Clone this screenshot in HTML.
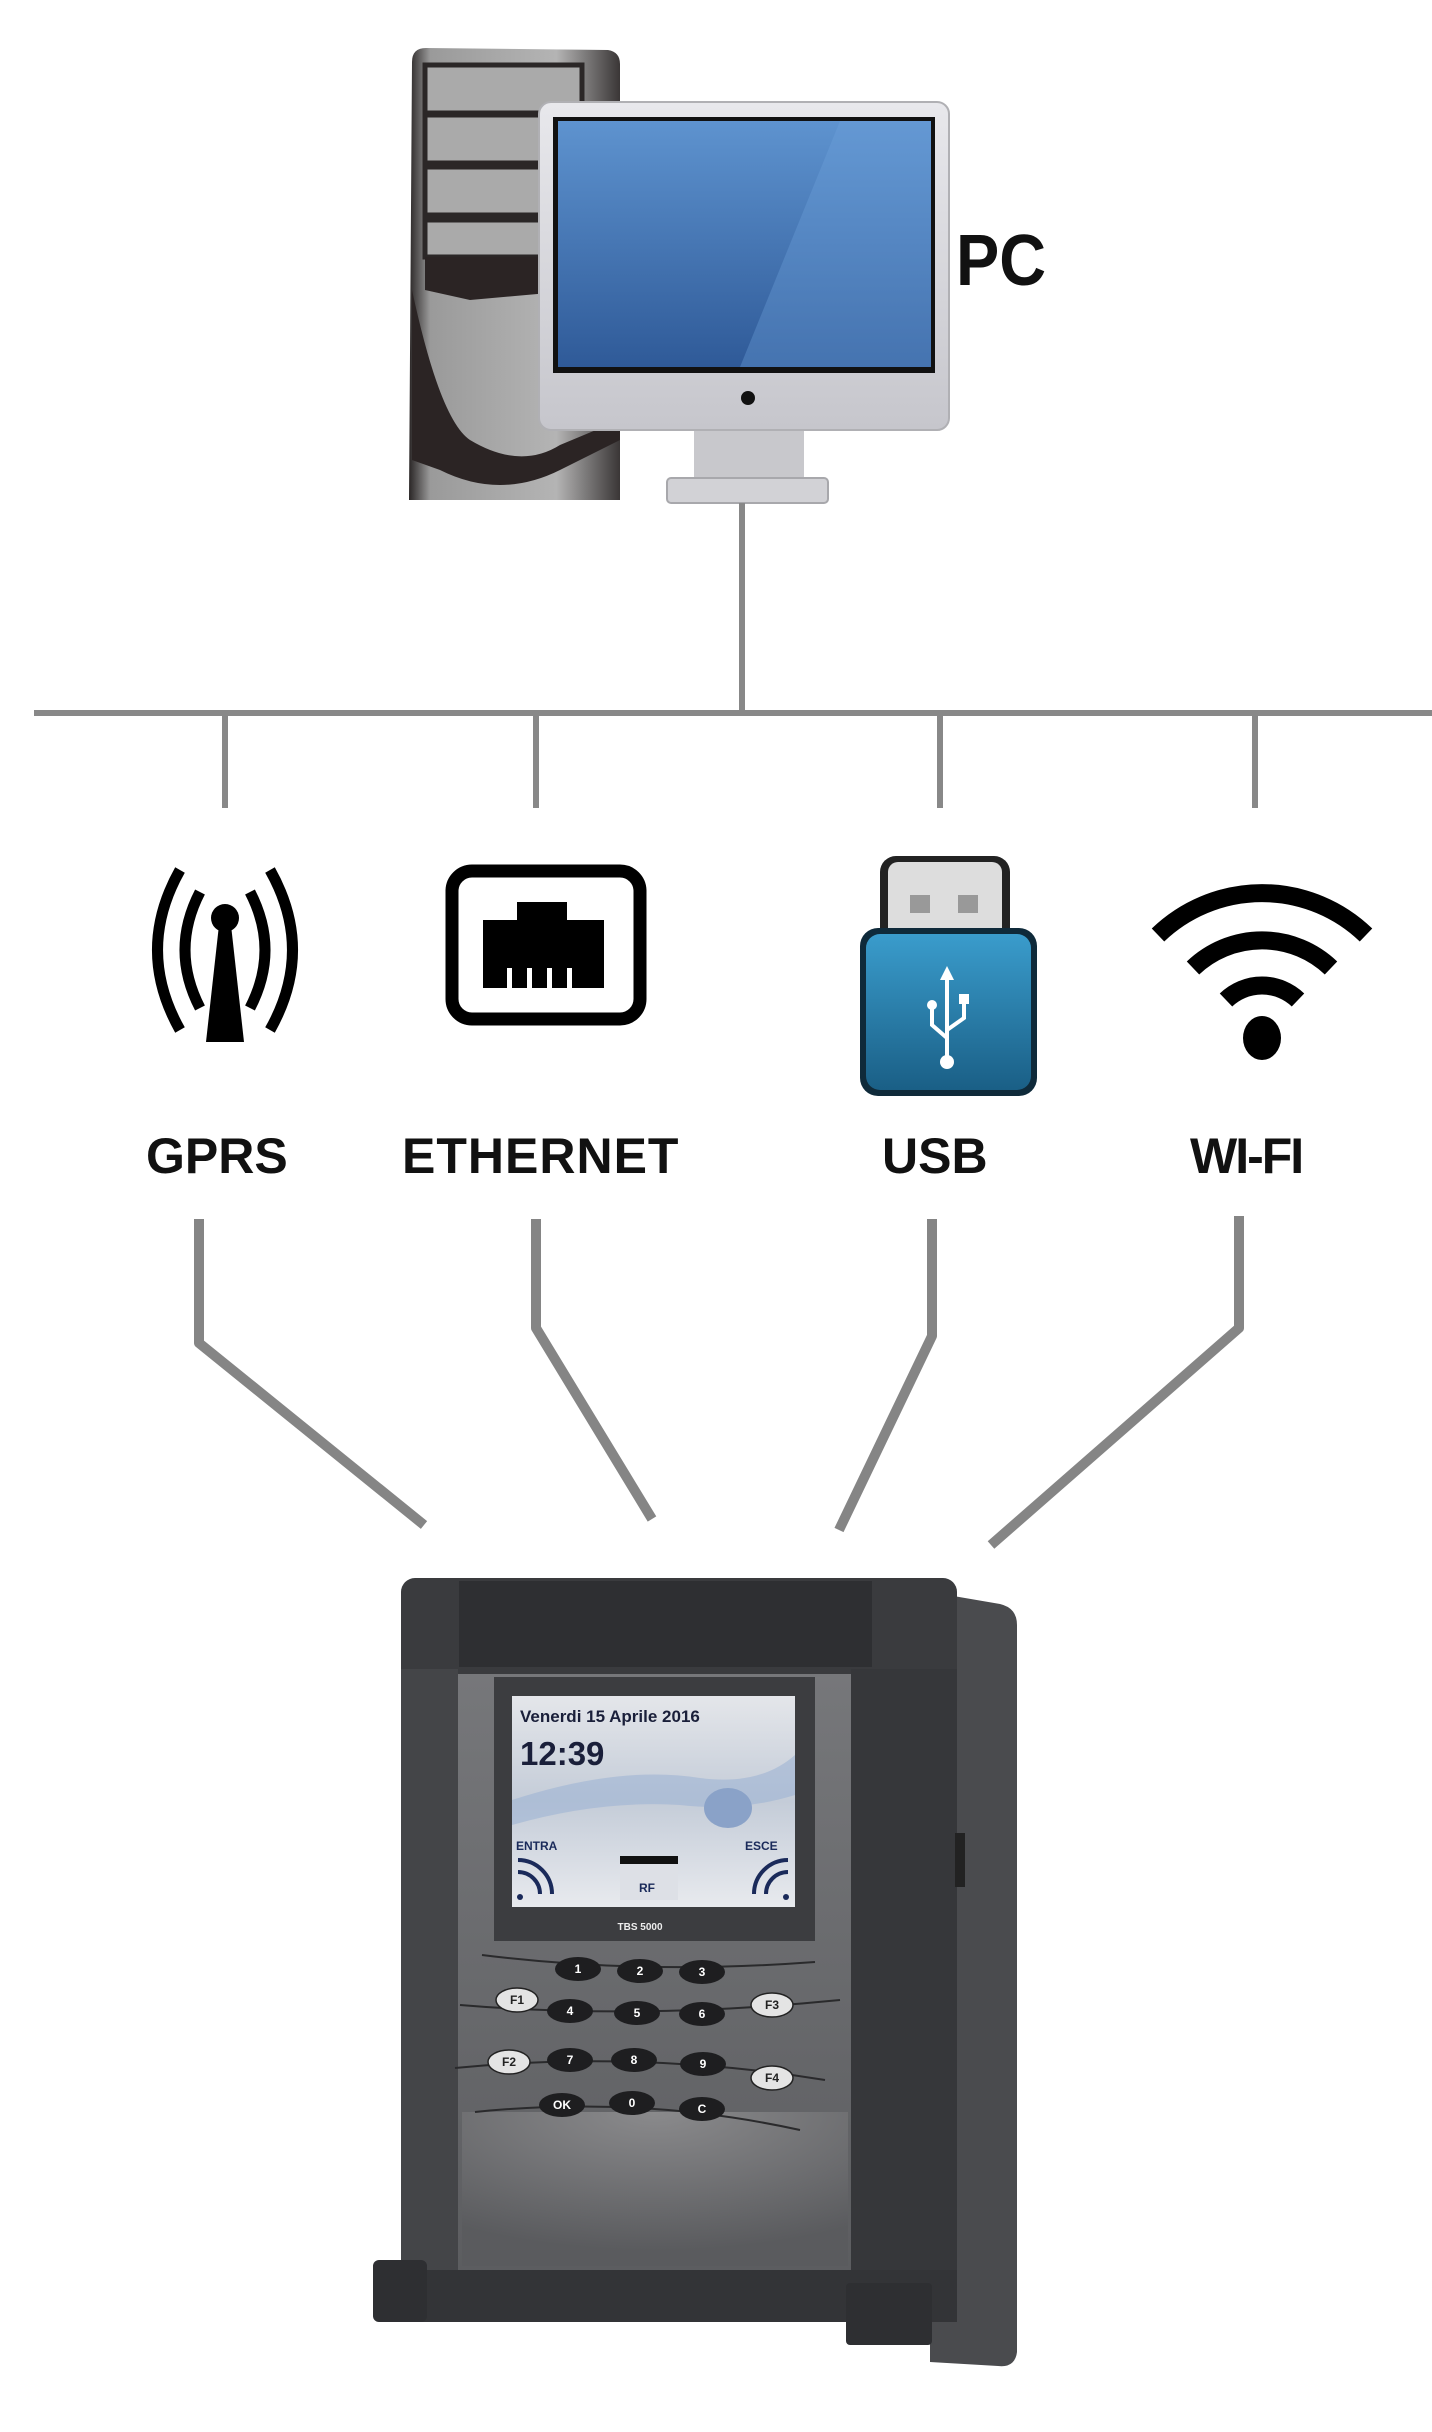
<!DOCTYPE html>
<html><head><meta charset="utf-8"><style>
html,body{margin:0;padding:0;background:#fff;}
svg{display:block;}
text{font-family:"Liberation Sans",Arial,sans-serif;font-weight:bold;}
</style></head><body>
<svg width="1432" height="2432" viewBox="0 0 1432 2432" xmlns="http://www.w3.org/2000/svg">
<defs>
<linearGradient id="tower" x1="0" y1="0" x2="1" y2="0"><stop offset="0" stop-color="#2a2626"/><stop offset="0.1" stop-color="#9a9a9a"/><stop offset="0.7" stop-color="#b4b4b4"/><stop offset="1" stop-color="#3a3636"/></linearGradient>
<linearGradient id="scr" x1="0" y1="0" x2="0" y2="1"><stop offset="0" stop-color="#5e93cf"/><stop offset="1" stop-color="#2f5a98"/></linearGradient>
<linearGradient id="mon" x1="0" y1="0" x2="0" y2="1"><stop offset="0" stop-color="#e8e8ec"/><stop offset="1" stop-color="#c6c6cc"/></linearGradient>
<linearGradient id="usbb" x1="0" y1="0" x2="0" y2="1"><stop offset="0" stop-color="#3a9ccc"/><stop offset="1" stop-color="#1a5f86"/></linearGradient>
<linearGradient id="lcd" x1="0" y1="0" x2="0" y2="1"><stop offset="0" stop-color="#e4e6ea"/><stop offset="0.5" stop-color="#c4ccd8"/><stop offset="1" stop-color="#e8eaee"/></linearGradient>
<linearGradient id="panel" x1="0" y1="0" x2="0" y2="1"><stop offset="0" stop-color="#76777a"/><stop offset="1" stop-color="#5c5d60"/></linearGradient>
<radialGradient id="spk" cx="0.5" cy="0" r="0.9"><stop offset="0" stop-color="#8a8a8c"/><stop offset="1" stop-color="#5a5b5e"/></radialGradient>
</defs>

<!-- PC tower -->
<path d="M412 62 Q412 48 426 48 L608 50 Q620 52 620 64 L620 500 L409 500 Z" fill="url(#tower)"/>
<rect x="425" y="65" width="157" height="48" fill="#aaa" stroke="#2b2727" stroke-width="5"/>
<rect x="425" y="115" width="157" height="48" fill="#aaa" stroke="#2b2727" stroke-width="5"/>
<rect x="425" y="167" width="157" height="48" fill="#aaa" stroke="#2b2727" stroke-width="5"/>
<rect x="425" y="220" width="157" height="37" fill="#aaa" stroke="#2b2727" stroke-width="5"/>
<path d="M425 257 L582 257 L582 290 L470 300 L425 290 Z" fill="#2b2424"/>
<path d="M412 290 Q440 420 470 440 Q520 470 560 445 L620 420 L620 440 L560 470 Q500 500 440 470 L412 460 Z" fill="#2b2424"/>

<!-- Monitor -->
<rect x="694" y="425" width="110" height="58" fill="#c8c8cc"/>
<rect x="667" y="478" width="161" height="25" rx="4" fill="#d2d2d6" stroke="#a8a8ac" stroke-width="2"/>
<rect x="539" y="102" width="410" height="328" rx="12" fill="url(#mon)" stroke="#b0b0b4" stroke-width="2"/>
<rect x="553" y="117" width="382" height="256" fill="#111"/>
<rect x="558" y="121" width="373" height="246" fill="url(#scr)"/>
<path d="M840 121 L931 121 L931 367 L740 367 Z" fill="#6fa3dc" opacity="0.35"/>
<circle cx="748" cy="398" r="7" fill="#111"/>
<text x="956" y="285" font-size="72" fill="#111" transform="translate(956 0) scale(0.9 1) translate(-956 0)">PC</text>

<!-- Bus lines -->
<g stroke="#888" stroke-width="6" fill="none">
<line x1="742" y1="503" x2="742" y2="713"/>
<line x1="34" y1="713" x2="1432" y2="713"/>
<line x1="225" y1="713" x2="225" y2="808"/>
<line x1="536" y1="713" x2="536" y2="808"/>
<line x1="940" y1="713" x2="940" y2="808"/>
<line x1="1255" y1="713" x2="1255" y2="808"/>
</g>

<!-- GPRS icon -->
<g fill="none" stroke="#000" stroke-width="11" stroke-linecap="butt">
<path d="M180 870 Q135 950 180 1030"/>
<path d="M270 870 Q315 950 270 1030"/>
<path d="M200 892 Q170 950 200 1008"/>
<path d="M250 892 Q280 950 250 1008"/>
</g>
<circle cx="225" cy="918" r="14" fill="#000"/>
<path d="M219 925 L231 925 L244 1042 L206 1042 Z" fill="#000"/>

<!-- Ethernet icon -->
<rect x="452" y="871" width="188" height="148" rx="20" fill="none" stroke="#000" stroke-width="13"/>
<path d="M483 920 L517 920 L517 902 L567 902 L567 920 L604 920 L604 988 L483 988 Z" fill="#000"/>
<g fill="#fff"><rect x="507" y="968" width="5" height="20"/><rect x="527" y="968" width="5" height="20"/><rect x="547" y="968" width="5" height="20"/><rect x="567" y="968" width="5" height="20"/></g>

<!-- USB icon -->
<rect x="880" y="856" width="130" height="92" rx="16" fill="#222"/>
<rect x="888" y="862" width="114" height="84" rx="10" fill="#ddd"/>
<rect x="910" y="895" width="20" height="18" fill="#999"/><rect x="958" y="895" width="20" height="18" fill="#999"/>
<rect x="860" y="928" width="177" height="168" rx="18" fill="#0f2a3a"/>
<rect x="866" y="934" width="165" height="156" rx="14" fill="url(#usbb)"/>
<g stroke="#fff" stroke-width="4" fill="none"><line x1="947" y1="975" x2="947" y2="1058"/><path d="M947 1038 L932 1025 L932 1008"/><path d="M947 1030 L964 1018 L964 1000"/></g>
<path d="M947 966 L940 980 L954 980 Z" fill="#fff"/><circle cx="947" cy="1062" r="7" fill="#fff"/><circle cx="932" cy="1005" r="5" fill="#fff"/><rect x="959" y="994" width="10" height="10" fill="#fff"/>

<!-- WiFi icon -->
<g fill="none" stroke="#000" stroke-width="18">
<path d="M1158 935 A150 150 0 0 1 1366 935"/>
<path d="M1193 968 A100 100 0 0 1 1331 968"/>
<path d="M1226 1000 A52 52 0 0 1 1298 1000"/>
</g>
<ellipse cx="1262" cy="1038" rx="19" ry="22" fill="#000"/>

<!-- Labels -->
<g font-size="50" fill="#111">
<text x="146" y="1173">GPRS</text>
<text x="402" y="1173" letter-spacing="1">ETHERNET</text>
<text x="882" y="1173">USB</text>
<text x="1190" y="1173" letter-spacing="-2">WI-FI</text>
</g>

<!-- Connectors -->
<g stroke="#858585" stroke-width="10" fill="none" stroke-linejoin="round">
<polyline points="199,1219 199,1343 424,1525"/>
<polyline points="536,1219 536,1328 652,1519"/>
<polyline points="932,1219 932,1336 839,1530"/>
<polyline points="1239,1216 1239,1328 991,1545"/>
</g>

<!-- Device -->
<path d="M930 1592 L1000 1604 Q1017 1608 1017 1625 L1017 2352 Q1015 2368 998 2366 L930 2362 Z" fill="#4a4b4e"/>
<rect x="401" y="1578" width="556" height="744" rx="14" fill="#3a3b3e"/>
<rect x="459" y="1581" width="413" height="86" fill="#2e2f32"/>
<rect x="401" y="1669" width="57" height="601" fill="#444548"/>
<rect x="851" y="1669" width="106" height="610" fill="#36373a"/>
<rect x="955" y="1833" width="10" height="54" fill="#222"/>
<rect x="458" y="1674" width="393" height="596" fill="url(#panel)"/>
<rect x="462" y="2112" width="386" height="154" fill="url(#spk)"/>
<rect x="401" y="2270" width="556" height="52" fill="#333437"/>
<rect x="373" y="2260" width="54" height="62" rx="6" fill="#2e2f32"/>
<rect x="846" y="2283" width="86" height="62" rx="4" fill="#2e2f32"/>
<rect x="494" y="1677" width="321" height="264" fill="#3c3d40"/>
<rect x="512" y="1696" width="283" height="211" fill="url(#lcd)"/>
<path d="M512 1800 Q620 1765 700 1778 Q760 1786 795 1755 L795 1795 Q740 1812 680 1805 Q600 1800 512 1825 Z" fill="#9fb4d4" opacity="0.6"/>
<ellipse cx="728" cy="1808" rx="24" ry="20" fill="#8aa2c8"/>
<text x="520" y="1722" font-size="17" fill="#1a1f3a">Venerdi 15 Aprile 2016</text>
<text x="520" y="1765" font-size="33" fill="#1a1f3a">12:39</text>
<text x="516" y="1850" font-size="12" fill="#1a2a5a">ENTRA</text>
<text x="745" y="1850" font-size="12" fill="#1a2a5a">ESCE</text>
<rect x="620" y="1856" width="58" height="44" fill="#dde0e6"/>
<rect x="620" y="1856" width="58" height="8" fill="#111"/>
<text x="639" y="1892" font-size="12" fill="#1a2a5a">RF</text>
<g fill="none" stroke="#1a2a5a" stroke-width="4">
<path d="M518 1860 A34 34 0 0 1 552 1894"/><path d="M518 1872 A22 22 0 0 1 540 1894"/>
<path d="M788 1860 A34 34 0 0 0 754 1894"/><path d="M788 1872 A22 22 0 0 0 766 1894"/>
</g>
<circle cx="520" cy="1897" r="3" fill="#1a2a5a"/><circle cx="786" cy="1897" r="3" fill="#1a2a5a"/>
<text x="640" y="1930" font-size="10" fill="#eee" text-anchor="middle">TBS 5000</text>
<g stroke="#2a2a2c" stroke-width="2" fill="none">
<path d="M482 1955 Q640 1975 815 1962"/>
<path d="M460 2005 Q640 2020 840 2000"/>
<path d="M455 2068 Q640 2050 825 2080"/>
<path d="M475 2112 Q640 2095 800 2130"/>
</g>
<g font-size="12" text-anchor="middle">
<g fill="#1e1e20"><ellipse cx="578" cy="1969" rx="23" ry="12"/><ellipse cx="640" cy="1971" rx="23" ry="12"/><ellipse cx="702" cy="1972" rx="23" ry="12"/>
<ellipse cx="570" cy="2011" rx="23" ry="12"/><ellipse cx="637" cy="2013" rx="23" ry="12"/><ellipse cx="702" cy="2014" rx="23" ry="12"/>
<ellipse cx="570" cy="2060" rx="23" ry="12"/><ellipse cx="634" cy="2060" rx="23" ry="12"/><ellipse cx="703" cy="2064" rx="23" ry="12"/>
<ellipse cx="562" cy="2105" rx="23" ry="12"/><ellipse cx="632" cy="2103" rx="23" ry="12"/><ellipse cx="702" cy="2109" rx="23" ry="12"/></g>
<g fill="#e4e4e4" stroke="#222" stroke-width="1.5"><ellipse cx="517" cy="2000" rx="21" ry="12"/><ellipse cx="772" cy="2005" rx="21" ry="12"/><ellipse cx="509" cy="2062" rx="21" ry="12"/><ellipse cx="772" cy="2078" rx="21" ry="12"/></g>
<g fill="#fff"><text x="578" y="1973">1</text><text x="640" y="1975">2</text><text x="702" y="1976">3</text>
<text x="570" y="2015">4</text><text x="637" y="2017">5</text><text x="702" y="2018">6</text>
<text x="570" y="2064">7</text><text x="634" y="2064">8</text><text x="703" y="2068">9</text>
<text x="562" y="2109">OK</text><text x="632" y="2107">0</text><text x="702" y="2113">C</text></g>
<g fill="#222"><text x="517" y="2004">F1</text><text x="772" y="2009">F3</text><text x="509" y="2066">F2</text><text x="772" y="2082">F4</text></g>
</g>
</svg>
</body></html>
